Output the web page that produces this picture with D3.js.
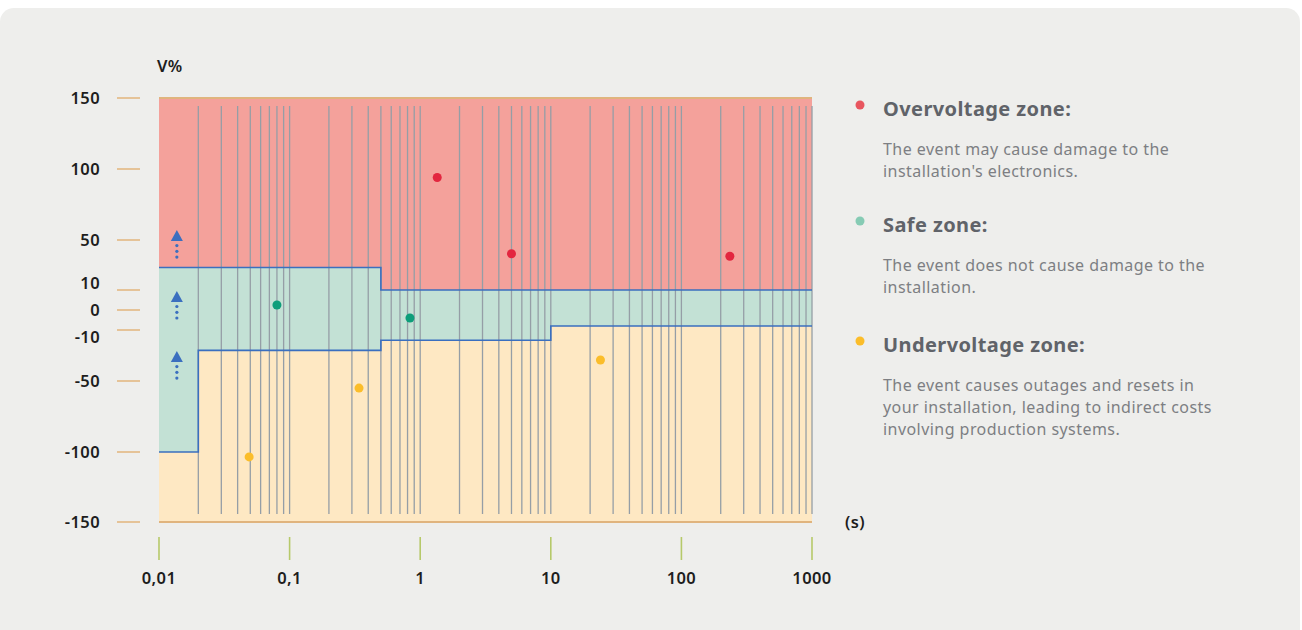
<!DOCTYPE html>
<html>
<head>
<meta charset="utf-8">
<script src="https://cdn.jsdelivr.net/npm/d3@7"></script>
<style>
    body { margin: 0; background: #fff; }
    svg text { font-family: "Noto Sans", sans-serif; }
</style>
</head>
<body>
<div class="content"></div>
<script>
// data
let yTicks = [150, 100, 50, 10, 0, -10, -50, -100, -150];
let xTicks = [0.01, 0.1, 1, 10, 100, 1000];
let xTickLabels = ['0,01', '0,1', '1', '10', '100', '1000'];

// zone limits, step after each time
let stepTimes = [0.01, 0.02, 0.5, 10, 1000];
let upperLimit = [28, 28, 10, 10, 10];
let lowerLimit = [-100, -26, -18, -8, -8];

let overPoints = [{t: 1.35, v: 94}, {t: 5, v: 39}, {t: 235, v: 37}];
let safePoints = [{t: 0.08, v: 2.5}, {t: 0.835, v: -4}];
let underPoints = [{t: 0.049, v: -103.5}, {t: 0.34, v: -55}, {t: 24, v: -33.5}];

let arrowTime = 0.0137;
let arrowLevels = [57, 9.5, -26.5];

let legendTitles = ['Overvoltage zone:', 'Safe zone:', 'Undervoltage zone:'];
let legendTexts = [
    ['The event may cause damage to the', "installation's electronics."],
    ['The event does not cause damage to the', 'installation.'],
    ['The event causes outages and resets in', 'your installation, leading to indirect costs', 'involving production systems.']
];

(function () {
    let W = 1302, H = 630;
    let colors = {
        over: '#f4a19b', safe: '#c3e1d5', under: '#fee8c3',
        overDot: '#e3263f', safeDot: '#0d9e7a', underDot: '#fbbd2a',
        blue: '#3b6fbf', grid: '#959ea6'
    };
    let legendDots = ['#e8565f', '#86cbb4', '#fbbd2a'];

    let svg = d3.select('.content').append('svg')
        .attr('width', W)
        .attr('height', H);

    // card background
    svg.append('rect')
        .attr('x', 0).attr('y', 8)
        .attr('width', 1300).attr('height', 650)
        .attr('rx', 14)
        .attr('fill', '#eeeeec');

    let x = d3.scaleLog().domain([0.01, 1000]).range([159, 812]);
    // broken scale: the middle band is stretched
    let y = d3.scaleLinear()
        .domain([-150, -100, -50, -10, 0, 10, 50, 100, 150])
        .range([522, 452, 381, 330, 310, 290, 240, 169, 98]);

    let zone = stepTimes.map(function (t, i) {
        return {t: t, hi: upperLimit[i], lo: lowerLimit[i]};
    });

    let area = d3.area().curve(d3.curveStepAfter).x(function (d) { return x(d.t); });

    // red zone
    svg.append('path').datum(zone)
        .attr('fill', colors.over)
        .attr('d', area.y0(y(150)).y1(function (d) { return y(d.hi); }));
    // green zone
    svg.append('path').datum(zone)
        .attr('fill', colors.safe)
        .attr('d', area.y0(function (d) { return y(d.lo); }).y1(function (d) { return y(d.hi); }));
    // yellow zone
    svg.append('path').datum(zone)
        .attr('fill', colors.under)
        .attr('d', area.y0(y(-150)).y1(function (d) { return y(d.lo); }));

    // vertical grid lines
    let gridTimes = [];
    for (let dec = 0.01; dec < 1000; dec *= 10) {
        for (let m = 2; m <= 10; m++) gridTimes.push(+(dec * m).toPrecision(3));
    }
    svg.append('g').selectAll('line')
        .data(gridTimes)
        .enter().append('line')
        .attr('x1', function (d) { return x(d); })
        .attr('x2', function (d) { return x(d); })
        .attr('y1', 106).attr('y2', 514)
        .attr('stroke', colors.grid)
        .attr('stroke-width', 1.3);

    // limit lines
    let line = d3.line().curve(d3.curveStepAfter).x(function (d) { return x(d.t); });
    svg.append('path').datum(zone)
        .attr('fill', 'none').attr('stroke', colors.blue).attr('stroke-width', 1.6)
        .attr('d', line.y(function (d) { return y(d.hi); }));
    svg.append('path').datum(zone)
        .attr('fill', 'none').attr('stroke', colors.blue).attr('stroke-width', 1.6)
        .attr('d', line.y(function (d) { return y(d.lo); }));

    // top and bottom borders
    [150, -150].forEach(function (v) {
        svg.append('line')
            .attr('x1', x(0.01)).attr('x2', x(1000))
            .attr('y1', y(v)).attr('y2', y(v))
            .attr('stroke', '#e0b47e').attr('stroke-width', 2);
    });

    let labelStyle = function (sel) {
        sel.attr('font-size', 16.5).attr('font-weight', 600)
            .attr('letter-spacing', 0.4).attr('fill', '#1d1d1d');
    };

    // y axis
    let gy = svg.append('g');
    gy.selectAll('line').data(yTicks).enter().append('line')
        .attr('x1', 117).attr('x2', 140)
        .attr('y1', function (d) { return y(d); })
        .attr('y2', function (d) { return y(d); })
        .attr('stroke', '#e2b57c').attr('stroke-width', 1.5);
    gy.selectAll('text').data(yTicks).enter().append('text')
        .attr('x', 100)
        .attr('y', function (d) { return y(d) + (d === 10 ? -7 : d === -10 ? 7 : 0); })
        .attr('dy', '0.35em')
        .attr('text-anchor', 'end')
        .call(labelStyle)
        .text(function (d) { return d; });
    svg.append('text')
        .attr('x', 157).attr('y', 66).attr('dy', '0.35em')
        .call(labelStyle)
        .text('V%');

    // x axis
    let gx = svg.append('g');
    gx.selectAll('line').data(xTicks).enter().append('line')
        .attr('x1', function (d) { return x(d); })
        .attr('x2', function (d) { return x(d); })
        .attr('y1', 537).attr('y2', 560)
        .attr('stroke', '#b6c96a').attr('stroke-width', 1.6);
    gx.selectAll('text').data(xTicks).enter().append('text')
        .attr('x', function (d) { return x(d); })
        .attr('y', 578).attr('dy', '0.35em')
        .attr('text-anchor', 'middle')
        .call(labelStyle)
        .text(function (d, i) { return xTickLabels[i]; });
    svg.append('text')
        .attr('x', 845).attr('y', 522).attr('dy', '0.35em')
        .call(labelStyle)
        .text('(s)');

    // arrows
    let arrows = svg.append('g').selectAll('g')
        .data(arrowLevels).enter().append('g')
        .attr('transform', function (d) { return 'translate(' + x(arrowTime) + ',' + y(d) + ')'; });
    arrows.append('path')
        .attr('d', 'M0,0L6,11L-6,11Z')
        .attr('fill', colors.blue);
    [15.5, 21.3, 27].forEach(function (dy) {
        arrows.append('circle').attr('cx', 0).attr('cy', dy).attr('r', 1.6).attr('fill', colors.blue);
    });

    // event points
    let drawDots = function (data, color) {
        svg.append('g').selectAll('circle')
            .data(data).enter().append('circle')
            .attr('cx', function (d) { return x(d.t); })
            .attr('cy', function (d) { return y(d.v); })
            .attr('r', 4.5)
            .attr('fill', color);
    };
    drawDots(overPoints, colors.overDot);
    drawDots(safePoints, colors.safeDot);
    drawDots(underPoints, colors.underDot);

    // legend
    let legendY = [109, 225, 345];
    let legend = svg.append('g').selectAll('g')
        .data(legendTitles).enter().append('g')
        .attr('transform', function (d, i) { return 'translate(0,' + legendY[i] + ')'; });
    legend.append('circle')
        .attr('cx', 860).attr('cy', -4).attr('r', 4.5)
        .attr('fill', function (d, i) { return legendDots[i]; });
    legend.append('text')
        .attr('x', 883).attr('y', 0).attr('dy', '0.35em')
        .attr('font-size', 20).attr('font-weight', 700)
        .attr('letter-spacing', 0.4).attr('fill', '#606369')
        .text(function (d) { return d; });
    legend.each(function (d, i) {
        d3.select(this).selectAll('text.desc')
            .data(legendTexts[i]).enter().append('text')
            .attr('class', 'desc')
            .attr('x', 883)
            .attr('y', function (t, j) { return 40 + j * 22; })
            .attr('dy', '0.35em')
            .attr('font-size', 16).attr('letter-spacing', 0.45)
            .attr('fill', '#7d7f83')
            .text(function (t) { return t; });
    });
})();
</script>
</body>
</html>
